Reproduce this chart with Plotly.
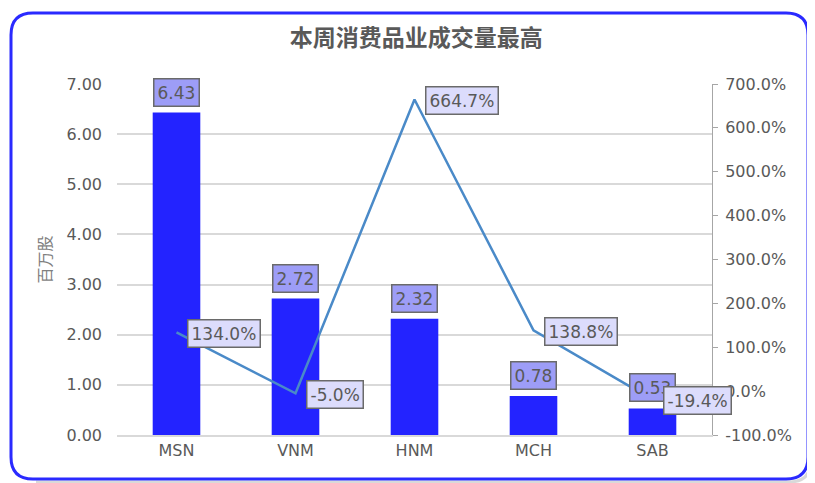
import plotly.graph_objects as go

categories = ["MSN", "VNM", "HNM", "MCH", "SAB"]
volume = [6.43, 2.72, 2.32, 0.78, 0.53]
change_pct = [134.0, -5.0, 664.7, 138.8, -19.4]
left_ticks = [0, 1, 2, 3, 4, 5, 6, 7]
right_ticks = [-100, 0, 100, 200, 300, 400, 500, 600, 700]

FONT = "DejaVu Sans, Verdana, sans-serif"
TXT = "#595959"

# page body has an 8px margin, so figure is 8px smaller and offset
OFF = 8
W, H = 815 - OFF, 483 - OFF
l, r, t, b = 117 - OFF, 103, 84 - OFF, 48

fig = go.Figure()
fig.add_trace(go.Bar(x=categories, y=volume, marker=dict(color="#2323ff", line=dict(width=0)),
                     width=0.4, yaxis="y", hoverinfo="skip"))
fig.add_trace(go.Scatter(x=categories, y=change_pct, mode="lines", yaxis="y2",
                         line=dict(color="#4a8ac8", width=2.5), hoverinfo="skip"))

annotations = []
for c, v in zip(categories, volume):
    annotations.append(dict(x=c, y=v, xref="x", yref="y", text=f"{v:.2f}", showarrow=False,
                            yanchor="bottom", yshift=6, font=dict(family=FONT, size=17, color=TXT),
                            bgcolor="#9d9df7", bordercolor="#6a6a6a", borderwidth=1.5, borderpad=3))
for c, p in zip(categories, change_pct):
    annotations.append(dict(x=c, y=p, xref="x", yref="y2", text=f"{p:.1f}%", showarrow=False,
                            xanchor="left", yanchor="middle", xshift=10, yshift=-1,
                            font=dict(family=FONT, size=17, color=TXT),
                            bgcolor="#dcdcfc", bordercolor="#6a6a6a", borderwidth=1.5, borderpad=3))

fig.update_layout(
    width=W, height=H,
    margin=dict(l=l, r=r, t=t, b=b, autoexpand=False),
    paper_bgcolor="white", plot_bgcolor="white",
    showlegend=False,
    title=dict(text="<b>本周消费品业成交量最高</b>", x=0.506, xanchor="center", y=1 - 30 / H, yanchor="middle",
               font=dict(family="Noto Sans CJK SC, sans-serif", size=23, color=TXT)),
    xaxis=dict(range=[-0.5, 4.5], showline=True, linecolor="#d9d9d9", linewidth=1.5, ticks="", showgrid=False,
               tickfont=dict(family=FONT, size=16, color=TXT), fixedrange=True, automargin=False),
    yaxis=dict(range=[0, 7], tickvals=left_ticks, tickformat=".2f", showgrid=True,
               gridcolor="#d9d9d9", gridwidth=1.5, zeroline=False, showline=False,
               ticks="", ticklabelstandoff=14, automargin=False,
               tickfont=dict(family=FONT, size=16, color=TXT),
               title=dict(text="百万股", standoff=10,
                          font=dict(family="Noto Sans CJK SC, sans-serif", size=16, color="#7f7f7f"))),
    yaxis2=dict(range=[-100, 700], tickvals=right_ticks, ticktext=[f"{t:.1f}%" for t in right_ticks],
                overlaying="y", side="right", showgrid=False, zeroline=False, automargin=False,
                showline=True, linecolor="#a6a6a6", linewidth=1,
                ticks="outside", ticklen=5, tickcolor="#a6a6a6", ticklabelstandoff=4,
                tickfont=dict(family=FONT, size=16, color=TXT)),
    annotations=annotations,
)

pw, ph = W - l - r, H - t - b
def px(x):
    return (x - OFF - l) / pw
def py(y):
    return (H + OFF - b - y) / ph
x0, x1, y0, y1, rad = 11, 808, 13, 479, 22
pts = (f"M {px(x0+rad)} {py(y0)} L {px(x1-rad)} {py(y0)} "
       f"Q {px(x1)} {py(y0)} {px(x1)} {py(y0+rad)} "
       f"L {px(x1)} {py(y1-rad)} Q {px(x1)} {py(y1)} {px(x1-rad)} {py(y1)} "
       f"L {px(x0+rad)} {py(y1)} Q {px(x0)} {py(y1)} {px(x0)} {py(y1-rad)} "
       f"L {px(x0)} {py(y0+rad)} Q {px(x0)} {py(y0)} {px(x0+rad)} {py(y0)} Z")
s = 3
shadow = (f"M {px(x1+s)} {py(y0+rad+s)} "
          f"L {px(x1+s)} {py(y1-rad+s)} Q {px(x1+s)} {py(y1+s)} {px(x1-rad+s)} {py(y1+s)} "
          f"L {px(x0+rad+s)} {py(y1+s)}")
fig.layout.shapes = [
    dict(type="path", xref="paper", yref="paper", layer="below", path=shadow,
         line=dict(color="rgba(0,0,0,0.15)", width=3)),
    dict(type="path", xref="paper", yref="paper", layer="above", path=pts,
         line=dict(color="#2a2aff", width=3)),
]

fig.write_html("out.html")
